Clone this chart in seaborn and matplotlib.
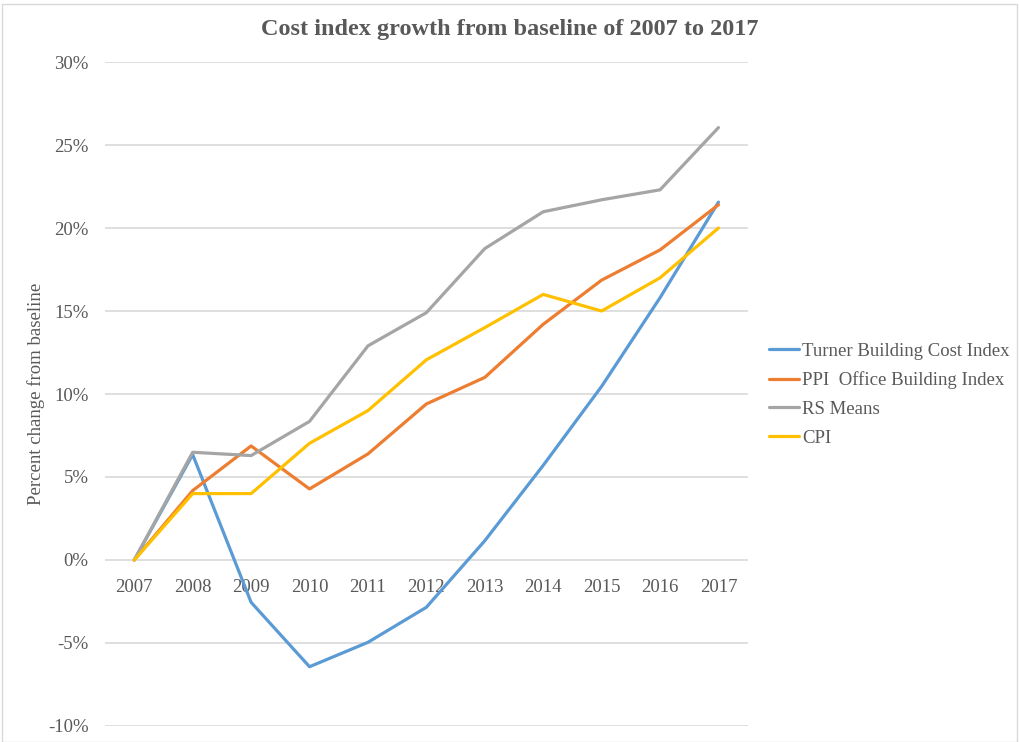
import pandas as pd
import seaborn as sns
import matplotlib.pyplot as plt
from matplotlib.patches import Rectangle
from matplotlib.ticker import FuncFormatter

# Values (percent change from 2007)
years = [2007, 2008, 2009, 2010, 2011, 2012, 2013, 2014, 2015, 2016, 2017]
turner = [0, 6.35, -2.55, -6.43, -4.96, -2.85, 1.16, 5.7, 10.46, 15.8, 21.56]
ppi = [0, 4.18, 6.87, 4.28, 6.39, 9.4, 11.0, 14.2, 16.86, 18.68, 21.4]
rs_means = [0, 6.49, 6.29, 8.35, 12.9, 14.9, 18.76, 20.98, 21.7, 22.3, 26.05]
cpi = [0, 4.0, 4.0, 7.03, 9.0, 12.06, 14.0, 16.0, 15.0, 17.0, 20.0]

series_names = ["Turner Building Cost Index", "PPI  Office Building Index",
                "RS Means", "CPI"]
series_colors = ["#5B9BD5", "#ED7D31", "#A5A5A5", "#FFC000"]

df = pd.DataFrame({"Year": years, series_names[0]: turner, series_names[1]: ppi,
                   series_names[2]: rs_means, series_names[3]: cpi})
long_df = df.melt(id_vars="Year", var_name="Series", value_name="Change")

sns.set_style("white")
plt.rcParams["font.family"] = ["Liberation Serif", "DejaVu Serif"]
text_color = "#595959"

fig = plt.figure(figsize=(10.2, 7.42), dpi=100)
ax = fig.add_axes([0.103, 0.0216, 0.63, 0.8948])

sns.lineplot(data=long_df, x="Year", y="Change", hue="Series",
             hue_order=series_names, palette=series_colors,
             linewidth=2.3, ax=ax, legend=True)

ax.set_xlim(2006.5, 2017.5)
ax.set_ylim(-10, 30)
ax.set_yticks(range(-10, 31, 5))
ax.set_xticks(years)
ax.yaxis.set_major_formatter(FuncFormatter(lambda v, p: f"{v:.0f}%"))
ax.grid(axis="y", color="#D9D9D9", linewidth=1.2)
ax.grid(axis="x", visible=False)
ax.set_axisbelow(True)

for side in ["top", "right", "left", "bottom"]:
    ax.spines[side].set_visible(False)
ax.spines["bottom"].set_position(("data", 0))
ax.tick_params(axis="x", length=0, pad=13.5, labelsize=13.5, labelcolor=text_color)
ax.tick_params(axis="y", length=0, pad=12, labelsize=13.5, labelcolor=text_color)

ax.set_xlabel("")
ax.set_ylabel("Percent change from baseline", fontsize=13.5, color=text_color)
ax.yaxis.set_label_coords(-0.093, 0.5)

fig.suptitle("Cost index growth from baseline of 2007 to 2017", x=0.5, y=0.975,
             fontsize=17.5, fontweight="bold", color=text_color)

ax.legend(loc="center left", bbox_to_anchor=(0.737, 0.468),
          bbox_transform=fig.transFigure, frameon=False, fontsize=13.5,
          handlelength=1.6, handletextpad=0.2, labelspacing=0.62,
          labelcolor=text_color)

fig.patches.append(Rectangle((0.002, 0.0), 0.995, 0.995, transform=fig.transFigure,
                             fill=False, edgecolor="#D9D9D9", linewidth=1))

fig.savefig("out.png", dpi=100)
